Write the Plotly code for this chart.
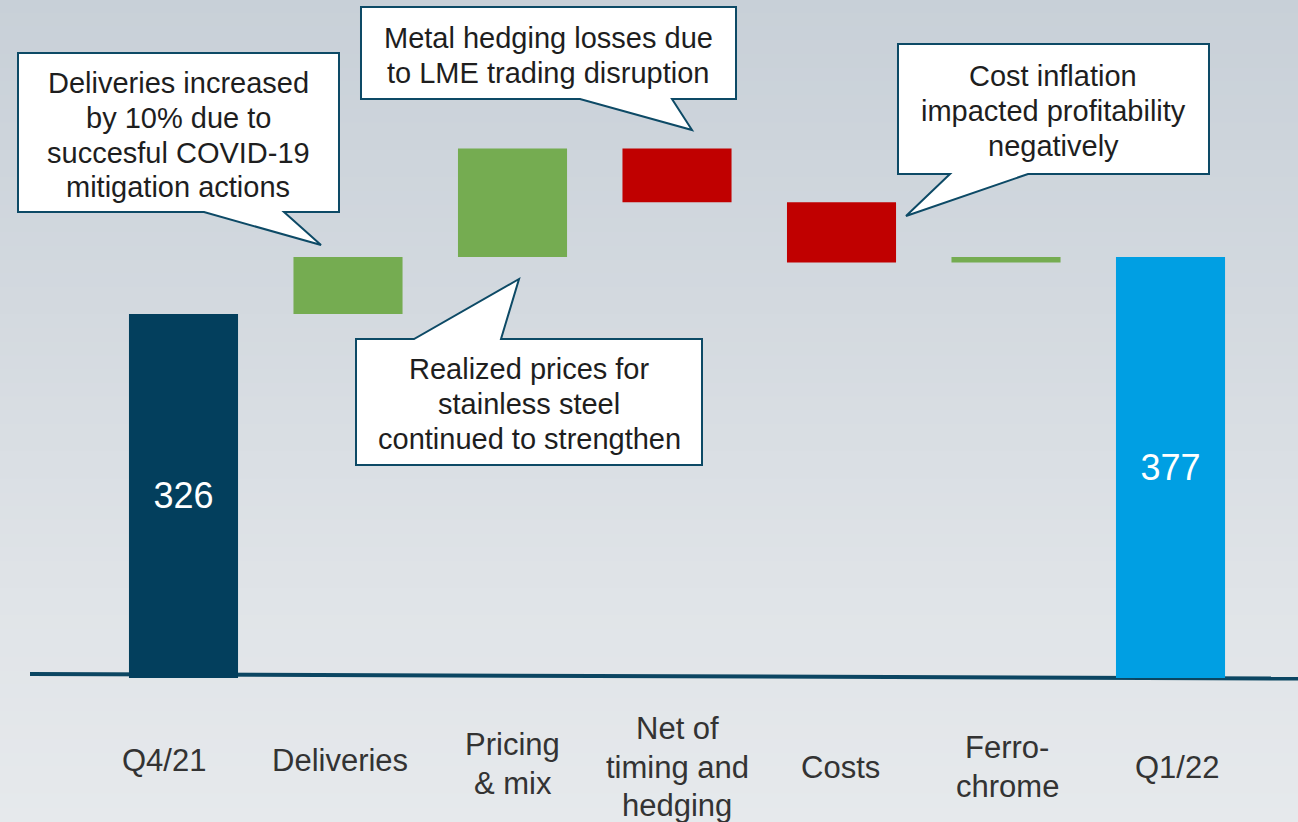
import plotly.graph_objects as go

# data
categories = ["Q4/21", "Deliveries", "Pricing & mix", "Net of timing and hedging",
              "Costs", "Ferrochrome", "Q1/22"]
label_lines = [["Q4/21"], ["Deliveries"], ["Pricing", "& mix"],
               ["Net of", "timing and", "hedging"], ["Costs"], ["Ferro-", "chrome"], ["Q1/22"]]
start_value = 326
changes = [51, 97, -48, -54, 5]
end_value = 377

callout_texts = [
    ["Deliveries increased", "by 10% due to", "succesful COVID-19", "mitigation actions"],
    ["Metal hedging losses due", "to LME trading disruption"],
    ["Cost inflation", "impacted profitability", "negatively"],
    ["Realized prices for", "stainless steel", "continued to strengthen"],
]

W, H = 1298, 822
FONT = "Liberation Sans, Arial, sans-serif"


def px(x, y):
    return x / W, 1 - y / H


# bar bases / heights
bases = [0]
heights = [start_value]
running = start_value
for c in changes:
    bases.append(running)
    heights.append(c)
    running += c
bases.append(0)
heights.append(end_value)

colors = ["#033f5d"] + ["#75ac51" if c > 0 else "#c00000" for c in changes] + ["#009fe3"]
texts = [str(start_value)] + [""] * len(changes) + [str(end_value)]

fig = go.Figure()
fig.add_trace(go.Bar(x=categories, y=heights, base=bases, marker_color=colors,
                     marker_line_width=0, width=0.663,
                     text=texts, textposition="inside", insidetextanchor="middle",
                     textangle=0, textfont=dict(size=36, color="white", family=FONT),
                     hoverinfo="skip"))

shapes = []
# background: brushed metal look approximated by horizontal bands
stops = [(0, (200, 208, 216)), (300, (211, 217, 223)), (600, (224, 228, 232)), (822, (230, 233, 236))]
nb = 60
for i in range(nb):
    y0 = H * i / nb
    y1 = H * (i + 1) / nb
    ym = (y0 + y1) / 2
    for (a, ca), (b, cb) in zip(stops[:-1], stops[1:]):
        if a <= ym <= b:
            t = (ym - a) / (b - a)
            col = tuple(int(round(ca[k] + (cb[k] - ca[k]) * t)) for k in range(3))
            break
    shapes.append(dict(type="rect", xref="paper", yref="paper", layer="below",
                       x0=0, x1=1, y0=1 - y1 / H, y1=1 - y0 / H + 0.001,
                       fillcolor="rgb(%d,%d,%d)" % col, line_width=0))

# baseline
bx0, by0 = px(30, 674)
bx1, by1 = px(1298, 678.5)
shapes.append(dict(type="line", xref="paper", yref="paper", layer="below",
                   x0=bx0, y0=by0, x1=bx1, y1=by1, line=dict(color="#0b4662", width=4)))

# callout outlines (pixel points)
callout_paths = [
    [(18, 53), (339, 53), (339, 212), (284, 212), (321, 245), (204, 212), (18, 212)],
    [(361, 7), (736, 7), (736, 99), (672, 99), (692, 130), (580, 99), (361, 99)],
    [(898, 44), (1209, 44), (1209, 174), (1028, 174), (906, 216), (950, 174), (898, 174)],
    [(356, 339), (414, 339), (519, 279), (501, 339), (702, 339), (702, 465), (356, 465)],
]
callout_centers = [178, 548, 1053, 529]
callout_line_y = [[83, 118, 153, 187], [38, 73], [76, 111, 146], [369, 404, 439]]

for pts in callout_paths:
    p = "M " + " L ".join("%.5f,%.5f" % px(x, y) for x, y in pts) + " Z"
    shapes.append(dict(type="path", xref="paper", yref="paper", layer="above", path=p,
                       fillcolor="white", line=dict(color="#0d4a66", width=2)))

annotations = []
for lines, cx, ys in zip(callout_texts, callout_centers, callout_line_y):
    for line, y in zip(lines, ys):
        ax, ay = px(cx, y)
        annotations.append(dict(text=line, xref="paper", yref="paper", x=ax, y=ay,
                                xanchor="center", yanchor="middle", showarrow=False,
                                font=dict(size=29, color="#1e1e1e", family=FONT)))

# category labels (slightly offset from bar centres, as on the slide)
label_centers = [760, 760, 764, 767, 767, 767, 767]
label_shift = [-20, -8, 0, 0, -1, 1, 6]
for cat, lines, cy, dx in zip(categories, label_lines, label_centers, label_shift):
    n = len(lines)
    for k, line in enumerate(lines):
        y = cy + (k - (n - 1) / 2) * 38.5
        annotations.append(dict(text=line, xref="x", yref="paper", x=cat, y=1 - y / H,
                                xshift=dx, xanchor="center", yanchor="middle", showarrow=False,
                                font=dict(size=31, color="#333333", family=FONT)))

fig.update_layout(
    width=W, height=H,
    margin=dict(l=0, r=0, t=0, b=0),
    paper_bgcolor="#dde2e7", plot_bgcolor="#dde2e7",
    showlegend=False,
    shapes=shapes, annotations=annotations,
    xaxis=dict(type="category", range=[-1.1155, 6.775], showgrid=False, zeroline=False,
               showticklabels=False, ticks="", fixedrange=True),
    yaxis=dict(range=[-128.9, 607.0], showgrid=False, zeroline=False,
               showticklabels=False, ticks="", fixedrange=True),
)

# page body has a default 8px margin; drop it so the figure fills the window
fig.write_html("out.html", config={"displayModeBar": False},
               post_script="document.body.style.margin='0';document.body.style.overflow='hidden';")
